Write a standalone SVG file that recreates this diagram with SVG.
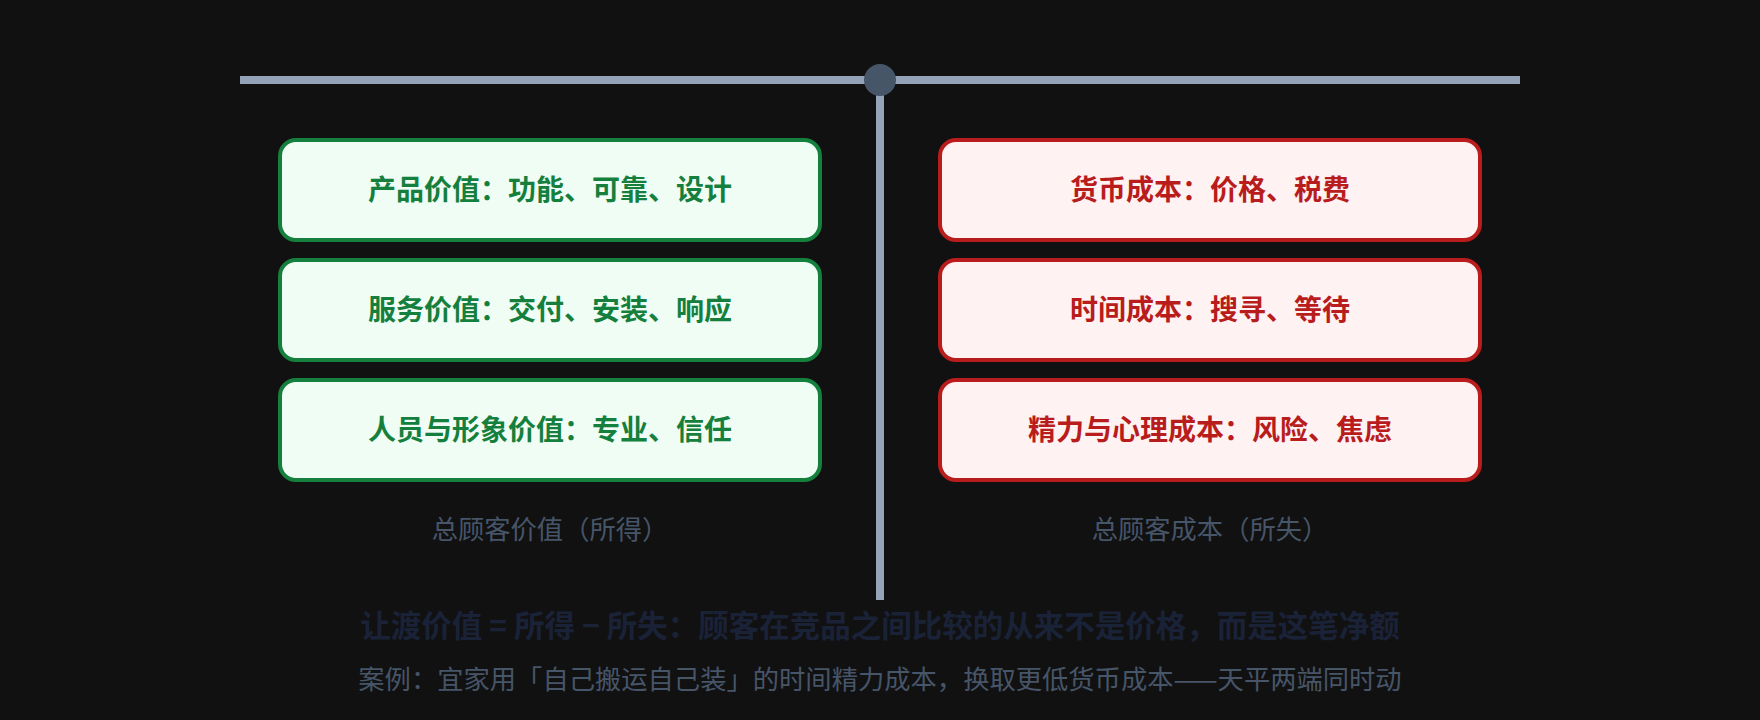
<svg xmlns="http://www.w3.org/2000/svg" width="1760" height="720" viewBox="0 0 1760 720">
<style>
.bg{fill:#111111}
.beam{stroke:#94a3b8;stroke-width:8;fill:none}
.gain rect{fill:#f0fdf4;stroke:#15803d;stroke-width:4}
.gain text{fill:#15803d}
.loss rect{fill:#fef2f2;stroke:#b91c1c;stroke-width:4}
.loss text{fill:#b91c1c}
.lbl{font-family:"Noto Sans CJK SC","Liberation Sans",sans-serif;font-size:28px;font-weight:bold;text-anchor:middle}
.cap{font-family:"Noto Sans CJK SC","Liberation Sans",sans-serif;font-size:26.3px;fill:#475569;text-anchor:middle}
.note{font-family:"Noto Sans CJK SC","Liberation Sans",sans-serif;text-anchor:middle}
</style>
<rect class="bg" x="0" y="0" width="1760" height="720"/>
<g id="connectors">
<line class="beam" x1="240" y1="80" x2="1520" y2="80"/>
<line class="beam" x1="880" y1="80" x2="880" y2="600"/>
</g>
<g id="pivot"><circle cx="880" cy="80" r="16" fill="#475569"/></g>
<g id="gain1" class="gain"><rect x="280" y="140" width="540" height="100" rx="16"/><text class="lbl" x="550" y="200">产品价值：功能、可靠、设计</text></g>
<g id="gain2" class="gain"><rect x="280" y="260" width="540" height="100" rx="16"/><text class="lbl" x="550" y="320">服务价值：交付、安装、响应</text></g>
<g id="gain3" class="gain"><rect x="280" y="380" width="540" height="100" rx="16"/><text class="lbl" x="550" y="440">人员与形象价值：专业、信任</text></g>
<g id="loss1" class="loss"><rect x="940" y="140" width="540" height="100" rx="16"/><text class="lbl" x="1210" y="200">货币成本：价格、税费</text></g>
<g id="loss2" class="loss"><rect x="940" y="260" width="540" height="100" rx="16"/><text class="lbl" x="1210" y="320">时间成本：搜寻、等待</text></g>
<g id="loss3" class="loss"><rect x="940" y="380" width="540" height="100" rx="16"/><text class="lbl" x="1210" y="440">精力与心理成本：风险、焦虑</text></g>
<g id="captions">
<text class="cap" x="550" y="539">总顾客价值（所得）</text>
<text class="cap" x="1210" y="539">总顾客成本（所失）</text>
</g>
<g id="notes">
<text class="note" x="880" y="637" font-size="30.5" font-weight="bold" fill="#1a2238">让渡价值 = 所得 − 所失：顾客在竞品之间比较的从来不是价格，而是这笔净额</text>
<text class="note" x="880" y="689" font-size="26.3" fill="#475569">案例：宜家用「自己搬运自己装」的时间精力成本，换取更低货币成本——天平两端同时动</text>
</g>
</svg>
